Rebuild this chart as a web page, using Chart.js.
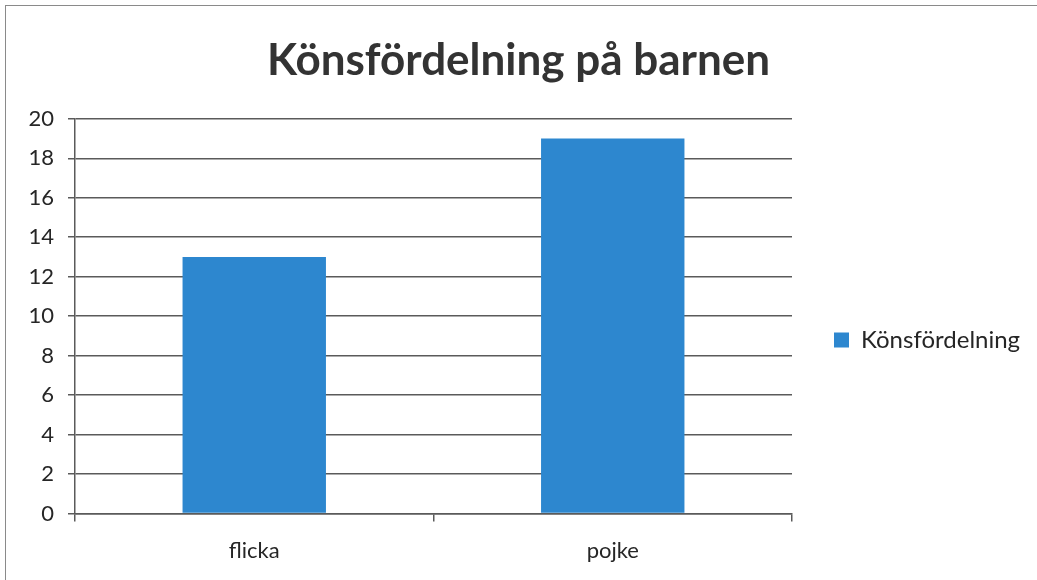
<!DOCTYPE html>
<html>
<head>
<meta charset="utf-8">
<script src="https://cdn.jsdelivr.net/npm/chart.js@4.4.1/dist/chart.umd.min.js"></script>
<style>
  html, body { margin: 0; padding: 0; background: #fff; }
  #wrap { position: relative; width: 1037px; height: 580px; }
  #frame { position: absolute; left: 5px; top: 5px; width: 1040px; height: 600px; border: 1px solid #8a8a8a; box-sizing: border-box; }
  canvas { position: absolute; left: 0; top: 0; }
</style>
</head>
<body>
<div id="wrap">
  <div id="frame"></div>
  <canvas id="chart" width="1037" height="580"></canvas>
</div>
<script>
const categories = ['flicka', 'pojke'];
const seriesName = 'Könsfördelning';
const values = [13, 19];
const chartTitle = 'Könsfördelning på barnen';

const barColor = '#2d87cf';
const gridColor = '#5a5a5a';
const textColor = '#262626';

// fixed legend width so the plot ends where the reference does,
// and legend item placed a bit below the middle like in the original
const legendPlace = {
  id: 'legendPlace',
  afterInit(chart) {
    const lg = chart.legend;
    const fit = lg.fit.bind(lg);
    lg.fit = function () { fit(); this.width = 245; };
  },
  afterLayout(chart) {
    const lg = chart.legend;
    const h = lg.bottom - lg.top;
    lg.top = 286;
    lg.bottom = 286 + h;
  }
};

new Chart(document.getElementById('chart'), {
  type: 'bar',
  data: {
    labels: categories,
    datasets: [{
      label: seriesName,
      data: values,
      backgroundColor: barColor,
      categoryPercentage: 0.4,
      barPercentage: 1.0
    }]
  },
  plugins: [legendPlace],
  options: {
    responsive: false,
    animation: false,
    layout: { padding: { left: 0, right: 0, top: 0, bottom: 0 } },
    plugins: {
      title: {
        display: true,
        text: chartTitle,
        color: '#333333',
        font: { family: 'Lato', size: 44, weight: 'bold' },
        padding: { top: 34, bottom: 32 }
      },
      legend: {
        position: 'right',
        align: 'start',
        labels: {
          color: textColor,
          font: { family: 'Lato', size: 24 },
          boxWidth: 15,
          boxHeight: 15,
          padding: 42
        }
      },
      tooltip: { enabled: false }
    },
    scales: {
      x: {
        offset: true,
        grid: {
          offset: true,
          drawOnChartArea: false,
          drawTicks: true,
          tickLength: 8,
          color: gridColor,
          lineWidth: 1.5
        },
        border: { display: true, color: gridColor, width: 1.5 },
        ticks: {
          color: textColor,
          font: { family: 'Lato', size: 22 },
          padding: 16
        }
      },
      y: {
        min: 0,
        max: 20,
        afterFit(s) { s.width = 75; },
        grid: {
          color: gridColor,
          lineWidth: 1.5,
          tickLength: 7
        },
        border: { display: true, color: gridColor, width: 1.5 },
        ticks: {
          stepSize: 2,
          color: textColor,
          font: { family: 'Lato', size: 22 },
          padding: 14
        }
      }
    }
  }
});
</script>
</body>
</html>
